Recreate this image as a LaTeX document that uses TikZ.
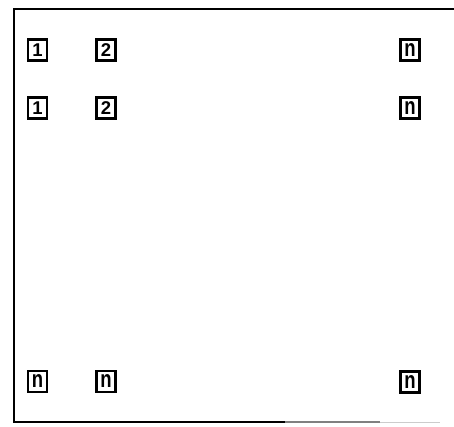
\documentclass[tikz,border=0pt]{standalone}
\usepackage{fontspec}
\setmainfont{Liberation Sans}
\begin{document}
\begin{tikzpicture}[x=1pt,y=-1pt,
  cell/.style={draw=black,line width=2.2pt,minimum width=19pt,minimum height=21pt,inner sep=0pt,
    font=\fontsize{18.5}{18.5}\selectfont\bfseries},
  frame/.style={line width=2pt,black}]
\useasboundingbox (0,0) rectangle (454,426);
\coordinate (tl) at (14,8.5);
\coordinate (tr) at (454,8.5);
\coordinate (bl) at (14,422);
\coordinate (bm) at (285,422);
\coordinate (bg) at (380,422);
\coordinate (br) at (440,422);
\draw[frame] (tr) -- (tl) -- (bl) -- (bm);
\draw[line width=1.5pt,black!50] (bm) -- (bg);
\draw[line width=1pt,black!20] (bg) -- (br);
% row 1
\node[cell] (a1) at (37.5,50) {1};
\node[cell] (a2) at (106,50) {2};
\node[cell] (an) at (410,50) {\scalebox{1}[1.3]{n}};
% row 2
\node[cell] (b1) at (37.5,108) {1};
\node[cell] (b2) at (106,108) {2};
\node[cell] (bn) at (410,108) {\scalebox{1}[1.3]{n}};
% row 3
\node[cell] (c1) at (37.5,381.5) {\scalebox{1}[1.3]{n}};
\node[cell] (c2) at (106,381.5) {\scalebox{1}[1.3]{n}};
\node[cell] (cn) at (410,382) {\scalebox{1}[1.3]{n}};
\end{tikzpicture}
\end{document}
